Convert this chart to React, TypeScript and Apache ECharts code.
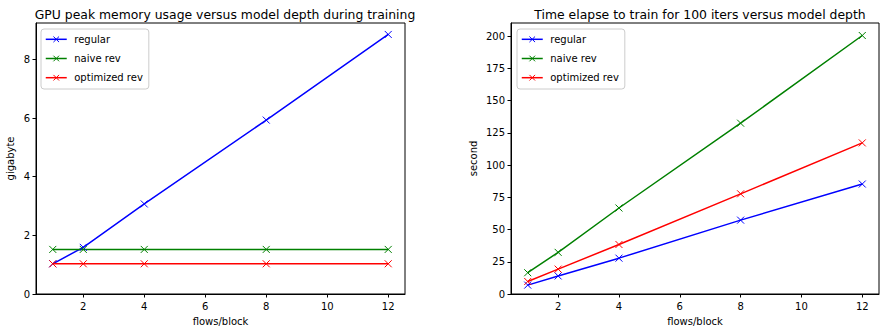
import React, { useEffect, useRef } from "react";
import * as echarts from "echarts";

const depths = [1, 2, 4, 8, 12];
const seriesNames = ["regular", "naive rev", "optimized rev"];
const memRegular = [1.03, 1.59, 3.07, 5.93, 8.85];
const memNaive = [1.52, 1.52, 1.52, 1.52, 1.52];
const memOptimized = [1.03, 1.03, 1.03, 1.03, 1.03];
const timeRegular = [6.9, 14.0, 27.8, 57.3, 85.3];
const timeNaive = [16.5, 32.3, 66.7, 132.5, 200.5];
const timeOptimized = [9.7, 19.3, 38.4, 77.7, 117.2];
const xTicks = [2, 4, 6, 8, 10, 12];
const memTicks = [0, 2, 4, 6, 8];
const timeTicks = [0, 25, 50, 75, 100, 125, 150, 175, 200];
const colors = ["#0000ff", "#008000", "#ff0000"];

const FONT = "DejaVu Sans";
const X_SYMBOL = "path://M0 0L10 10M10 0L0 10";

function App() {
  const ref = useRef<HTMLDivElement>(null);
  useEffect(() => {
    document.body.style.margin = "0";
    const chart = echarts.init(ref.current!, null, { renderer: "svg" });
    const xAxisBase = (gridIndex: number) => ({
      type: "value",
      gridIndex,
      min: 0.45,
      max: 12.55,
      name: "flows/block",
      nameLocation: "middle",
      nameGap: 22,
      nameTextStyle: { fontFamily: FONT, fontSize: 10, color: "#000" },
      axisLine: { show: true, lineStyle: { color: "#000", width: 1 } },
      axisTick: { show: true, inside: false, length: 3.5, customValues: xTicks, lineStyle: { color: "#000" } },
      axisLabel: { customValues: xTicks, margin: 7, fontFamily: FONT, fontSize: 10, color: "#000" },
      splitLine: { show: false },
    });
    const yAxisBase = (gridIndex: number, max: number, ticks: number[], name: string, gap: number) => ({
      type: "value",
      gridIndex,
      min: 0,
      max,
      name,
      nameLocation: "middle",
      nameGap: gap,
      nameTextStyle: { fontFamily: FONT, fontSize: 10, color: "#000" },
      axisLine: { show: true, lineStyle: { color: "#000", width: 1 } },
      axisTick: { show: true, inside: false, length: 3.5, customValues: ticks, lineStyle: { color: "#000" } },
      axisLabel: { customValues: ticks, margin: 6, fontFamily: FONT, fontSize: 10, color: "#000" },
      splitLine: { show: false },
    });
    const mk = (name: string, data: number[], color: string, idx: number) => ({
      type: "line",
      name,
      xAxisIndex: idx,
      yAxisIndex: idx,
      data: depths.map((d, i) => [d, data[i]]),
      symbol: X_SYMBOL,
      symbolSize: 7,
      showSymbol: true,
      lineStyle: { color, width: 1.5 },
      itemStyle: { color: "none", borderColor: color, borderWidth: 1 },
      emphasis: { disabled: true },
    });
    const legendBase = (left: number) => ({
      left,
      top: 29,
      orient: "vertical",
      data: seriesNames,
      itemWidth: 21,
      itemHeight: 7,
      itemGap: 8.6,
      padding: [5, 6, 6, 4],
      borderColor: "#cccccc",
      borderWidth: 1,
      borderRadius: 3,
      backgroundColor: "rgba(255,255,255,0.8)",
      lineStyle: { width: 1.5 },
      itemStyle: { borderWidth: 1 },
      textStyle: { fontFamily: FONT, fontSize: 10, color: "#000", padding: [0, 0, 0, 2.5] },
      selectedMode: false,
    });
    chart.setOption({
      animation: false,
      color: colors,
      title: [
        {
          text: "GPU peak memory usage versus model depth during training",
          left: 220,
          top: 3,
          textAlign: "center",
          textStyle: { fontFamily: FONT, fontSize: 12.4, fontWeight: "normal", color: "#000" },
        },
        {
          text: "Time elapse to train for 100 iters versus model depth",
          left: 695,
          top: 3,
          textAlign: "center",
          textStyle: { fontFamily: FONT, fontSize: 12.4, fontWeight: "normal", color: "#000" },
        },
      ],
      legend: [legendBase(41), legendBase(517)],
      grid: [
        { left: 36, top: 23, width: 369, height: 276, show: true, borderColor: "#000", borderWidth: 1, backgroundColor: "transparent" },
        { left: 511, top: 23, width: 368, height: 276, show: true, borderColor: "#000", borderWidth: 1, backgroundColor: "transparent" },
      ],
      xAxis: [xAxisBase(0), xAxisBase(1)],
      yAxis: [
        yAxisBase(0, 9.24, memTicks, "gigabyte", 21),
        yAxisBase(1, 210.2, timeTicks, "second", 33),
      ],
      series: [
        mk(seriesNames[0], memRegular, colors[0], 0),
        mk(seriesNames[1], memNaive, colors[1], 0),
        mk(seriesNames[2], memOptimized, colors[2], 0),
        mk(seriesNames[0], timeRegular, colors[0], 1),
        mk(seriesNames[1], timeNaive, colors[1], 1),
        mk(seriesNames[2], timeOptimized, colors[2], 1),
      ],
    });
    return () => chart.dispose();
  }, []);
  return <div ref={ref} style={{ width: 882, height: 331 }} />;
}

export default App;
